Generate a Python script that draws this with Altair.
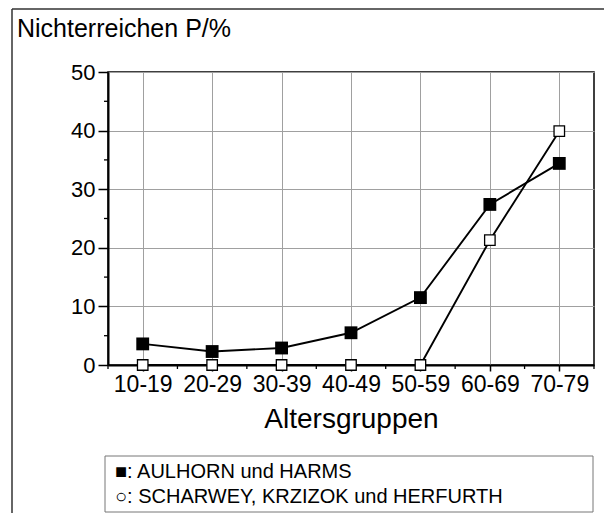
import altair as alt
import pandas as pd

# ---- data ----
categories = ["10-19", "20-29", "30-39", "40-49", "50-59", "60-69", "70-79"]
aulhorn = [3.6, 2.3, 2.9, 5.5, 11.5, 27.4, 34.4]
scharwey = [0.0, 0.0, 0.0, 0.0, 0.0, 21.3, 39.9]
y_major = [0, 10, 20, 30, 40, 50]
y_minor = [5, 15, 25, 35, 45]
x_minor = [-0.5, 0.5, 1.5, 2.5, 3.5, 4.5, 5.5, 6.5]
title_text = ["Nichterreichen P/%"]
x_title = "Altersgruppen"
legend_line1 = ["\u25a0: AULHORN und HARMS"]
legend_line2 = ["\u25cb: SCHARWEY, KRZIZOK und HERFURTH"]

FONT = "Liberation Sans"
W, H = 486, 293
PAD_L, PAD_T, PAD_R, PAD_B = 100, 64, 10, 148

idx = list(range(len(categories)))
df_a = pd.DataFrame({"idx": idx, "cat": categories, "v": aulhorn})
df_s = pd.DataFrame({"idx": idx, "cat": categories, "v": scharwey})

xscale = alt.Scale(domain=[-0.5, len(categories) - 0.5], nice=False, zero=False)
yscale = alt.Scale(domain=[0, 50], nice=False, zero=False)

label_expr = "[" + ",".join("'%s'" % c for c in categories) + "][datum.value]"

x_axis = alt.Axis(values=idx, labelExpr=label_expr, title=x_title, grid=True,
                  tickSize=6, labelPadding=2, labelFontSize=23, titleFontSize=28,
                  titlePadding=9, titleFontWeight="normal", labelFont=FONT, titleFont=FONT,
                  labelColor="black", titleColor="black", labelFlush=False)
y_axis = alt.Axis(values=y_major, title=None, grid=True, tickSize=10, labelPadding=3,
                  labelFontSize=22, labelFont=FONT, labelColor="black", labelFlush=False)


def xy(field_x="idx", field_y="v"):
    return dict(
        x=alt.X(field_x + ":Q", scale=xscale, axis=x_axis),
        y=alt.Y(field_y + ":Q", scale=yscale, axis=y_axis),
    )


line_a = alt.Chart(df_a).mark_line(color="black", strokeWidth=1.9).encode(**xy())
line_s = alt.Chart(df_s).mark_line(color="black", strokeWidth=1.9).encode(**xy())
pts_a = alt.Chart(df_a).mark_point(shape="square", filled=True, color="black",
                                   size=165, opacity=1).encode(**xy())
pts_s = alt.Chart(df_s).mark_point(shape="square", fill="white", stroke="black", strokeWidth=1.3,
                                   size=110, opacity=1, fillOpacity=1).encode(**xy())

# minor ticks
ymin = alt.Chart(pd.DataFrame({"v": y_minor})).mark_rule(color="black", strokeWidth=1.3).encode(
    y=alt.Y("v:Q", scale=yscale, axis=y_axis), x=alt.value(-4), x2=alt.value(0))
xmin = alt.Chart(pd.DataFrame({"idx": x_minor})).mark_rule(color="black", strokeWidth=1.3).encode(
    x=alt.X("idx:Q", scale=xscale, axis=x_axis), y=alt.value(H), y2=alt.value(H + 4))

# outer frame (left and top)
frame_l = alt.Chart(pd.DataFrame({"a": [0]})).mark_rule(color="#333", strokeWidth=1.5).encode(
    x=alt.value(-96), y=alt.value(-63), y2=alt.value(H + PAD_B))
frame_t = alt.Chart(pd.DataFrame({"a": [0]})).mark_rule(color="#333", strokeWidth=1.5).encode(
    x=alt.value(-96), x2=alt.value(W + PAD_R), y=alt.value(-63))

title = alt.Chart(pd.DataFrame({"t": title_text})).mark_text(
    align="left", baseline="alphabetic", font=FONT, fontSize=25, color="black").encode(
    x=alt.value(-91), y=alt.value(-35), text="t:N")

legend_box = alt.Chart(pd.DataFrame({"a": [0]})).mark_rect(
    fill="white", stroke="#777", strokeWidth=1).encode(
    x=alt.value(-3), x2=alt.value(485), y=alt.value(384), y2=alt.value(440))
legend_t1 = alt.Chart(pd.DataFrame({"t": legend_line1})).mark_text(
    align="left", baseline="middle", font=FONT, fontSize=20, color="black").encode(
    x=alt.value(7), y=alt.value(400), text="t:N")
legend_t2 = alt.Chart(pd.DataFrame({"t": legend_line2})).mark_text(
    align="left", baseline="middle", font=FONT, fontSize=20, color="black").encode(
    x=alt.value(7), y=alt.value(425), text="t:N")

chart = alt.layer(
    frame_l, frame_t, title, legend_box, legend_t1, legend_t2,
    ymin, xmin, line_a, line_s, pts_a, pts_s,
).properties(
    width=W, height=H,
    autosize=alt.AutoSizeParams(type="none"),
    padding={"left": PAD_L, "top": PAD_T, "right": PAD_R, "bottom": PAD_B},
    background="white",
).configure_view(stroke="black", strokeWidth=1.5).configure_axis(
    domainColor="black", domainWidth=2, tickColor="black", tickWidth=1.5,
    gridColor="#a0a0a0", gridWidth=1,
)

chart.save("out.html", embed_options={"renderer": "svg", "actions": False})
